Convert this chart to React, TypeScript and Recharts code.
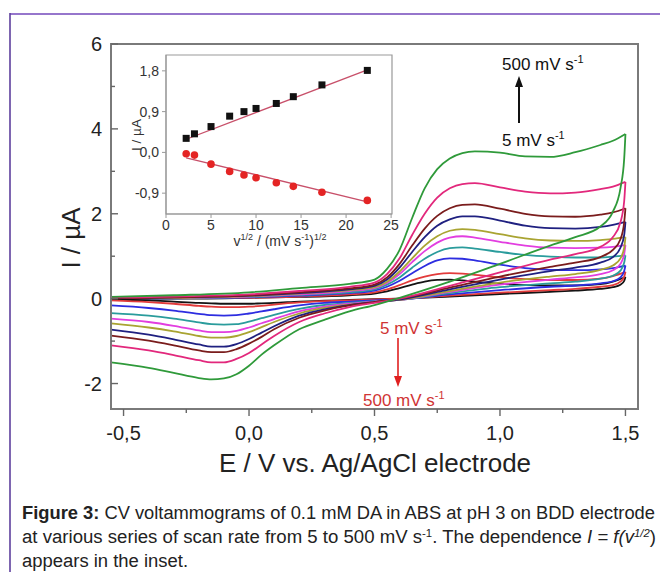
import React from 'react';
import { LineChart, Line, XAxis, YAxis, ReferenceArea, ComposedChart, Scatter } from 'recharts';

const FONT = 'Arial, "Liberation Sans", Helvetica, sans-serif';

// ---------- main CV data ----------
const forwardE = [-0.55, -0.3, 0, 0.2, 0.4, 0.5, 0.55, 0.6, 0.65, 0.7, 0.75, 0.8, 0.85, 0.9, 1.0, 1.1, 1.2, 1.3, 1.4, 1.45, 1.5];
const reverseE = [1.5, 1.495, 1.48, 1.45, 1.4, 1.3, 1.2, 1.0, 0.8, 0.6, 0.5, 0.4, 0.3, 0.2, 0.1, 0.05, 0, -0.05, -0.1, -0.15, -0.2, -0.3, -0.4, -0.55];

const scanRates = ['5', '10', '25', '50', '75', '100', '150', '200', '300', '500'];
const curveColors = ['#141414', '#e23b3b', '#2d2de0', '#2a9c9c', '#e23ee0', '#a9a432', '#1f2080', '#7a1c1c', '#e2287c', '#2f9a3a'];

const fwd5 = [0.0, 0.0, 0.02, 0.04, 0.08, 0.12, 0.17, 0.25, 0.33, 0.4, 0.44, 0.45, 0.43, 0.4, 0.35, 0.32, 0.31, 0.31, 0.34, 0.4, 0.51];
const rev5 = [0.51, 0.42, 0.33, 0.27, 0.23, 0.19, 0.16, 0.11, 0.05, 0.0, -0.01, -0.03, -0.05, -0.07, -0.1, -0.11, -0.12, -0.12, -0.12, -0.11, -0.1, -0.07, -0.04, -0.02];
const fwd10 = [0.0, 0.01, 0.02, 0.05, 0.1, 0.15, 0.22, 0.32, 0.43, 0.52, 0.58, 0.6, 0.59, 0.56, 0.5, 0.46, 0.44, 0.44, 0.47, 0.53, 0.63];
const rev10 = [0.63, 0.52, 0.4, 0.32, 0.28, 0.23, 0.2, 0.14, 0.07, 0.0, -0.02, -0.04, -0.06, -0.09, -0.14, -0.17, -0.19, -0.2, -0.2, -0.19, -0.17, -0.12, -0.08, -0.04];
const fwd25 = [0.0, 0.01, 0.03, 0.07, 0.13, 0.19, 0.28, 0.42, 0.6, 0.77, 0.9, 0.95, 0.94, 0.9, 0.8, 0.72, 0.68, 0.67, 0.69, 0.72, 0.78];
const rev25 = [0.78, 0.65, 0.5, 0.41, 0.36, 0.31, 0.28, 0.2, 0.1, -0.02, -0.04, -0.07, -0.1, -0.16, -0.25, -0.3, -0.35, -0.39, -0.4, -0.39, -0.36, -0.28, -0.22, -0.16];
const fwd50 = [0.0, 0.01, 0.04, 0.09, 0.15, 0.22, 0.33, 0.5, 0.73, 0.94, 1.1, 1.19, 1.21, 1.18, 1.1, 1.03, 0.99, 0.97, 0.97, 0.99, 1.02];
const rev50 = [1.02, 0.85, 0.66, 0.54, 0.47, 0.4, 0.36, 0.27, 0.13, -0.03, -0.06, -0.1, -0.15, -0.24, -0.38, -0.46, -0.54, -0.6, -0.61, -0.6, -0.56, -0.47, -0.4, -0.34];
const fwd75 = [0.0, 0.02, 0.05, 0.1, 0.18, 0.25, 0.37, 0.58, 0.86, 1.12, 1.32, 1.44, 1.47, 1.44, 1.34, 1.25, 1.2, 1.19, 1.2, 1.22, 1.26];
const rev75 = [1.26, 1.05, 0.82, 0.67, 0.58, 0.5, 0.45, 0.33, 0.16, -0.03, -0.07, -0.12, -0.19, -0.3, -0.48, -0.58, -0.68, -0.76, -0.79, -0.79, -0.75, -0.64, -0.55, -0.47];
const fwd100 = [0.0, 0.02, 0.06, 0.12, 0.2, 0.27, 0.4, 0.64, 0.95, 1.25, 1.47, 1.6, 1.64, 1.62, 1.52, 1.42, 1.37, 1.36, 1.38, 1.41, 1.45];
const rev100 = [1.45, 1.2, 0.95, 0.78, 0.68, 0.58, 0.52, 0.38, 0.18, -0.03, -0.08, -0.14, -0.22, -0.35, -0.55, -0.67, -0.79, -0.88, -0.92, -0.92, -0.88, -0.77, -0.68, -0.58];
const fwd150 = [0.0, 0.03, 0.07, 0.13, 0.22, 0.3, 0.45, 0.73, 1.1, 1.45, 1.72, 1.87, 1.94, 1.94, 1.84, 1.72, 1.66, 1.65, 1.69, 1.74, 1.81];
const rev150 = [1.81, 1.5, 1.2, 0.98, 0.85, 0.73, 0.65, 0.45, 0.22, -0.02, -0.08, -0.15, -0.25, -0.4, -0.65, -0.8, -0.95, -1.07, -1.13, -1.13, -1.08, -0.96, -0.85, -0.73];
const fwd200 = [0.0, 0.03, 0.08, 0.15, 0.24, 0.33, 0.5, 0.82, 1.25, 1.65, 1.95, 2.13, 2.21, 2.22, 2.12, 2.0, 1.94, 1.93, 1.98, 2.03, 2.13];
const rev200 = [2.13, 1.8, 1.4, 1.15, 0.98, 0.85, 0.75, 0.52, 0.26, 0.0, -0.08, -0.16, -0.28, -0.45, -0.72, -0.9, -1.06, -1.19, -1.26, -1.26, -1.22, -1.1, -0.99, -0.87];
const fwd300 = [0.02, 0.05, 0.1, 0.18, 0.28, 0.38, 0.58, 0.95, 1.5, 2.0, 2.38, 2.6, 2.7, 2.72, 2.62, 2.52, 2.48, 2.5, 2.58, 2.64, 2.75];
const rev300 = [2.75, 2.3, 1.8, 1.45, 1.22, 1.05, 0.92, 0.62, 0.3, 0.0, -0.1, -0.2, -0.35, -0.55, -0.88, -1.08, -1.28, -1.42, -1.5, -1.5, -1.45, -1.33, -1.22, -1.1];
const fwd500 = [0.04, 0.08, 0.15, 0.25, 0.35, 0.45, 0.7, 1.15, 1.9, 2.6, 3.05, 3.3, 3.43, 3.47, 3.44, 3.35, 3.34, 3.45, 3.62, 3.72, 3.88];
const rev500 = [3.88, 3.3, 2.6, 2.05, 1.7, 1.45, 1.25, 0.82, 0.4, 0.02, -0.15, -0.3, -0.5, -0.72, -1.1, -1.32, -1.58, -1.78, -1.88, -1.9, -1.87, -1.75, -1.63, -1.5];

const forwardSets = [fwd5, fwd10, fwd25, fwd50, fwd75, fwd100, fwd150, fwd200, fwd300, fwd500];
const reverseSets = [rev5, rev10, rev25, rev50, rev75, rev100, rev150, rev200, rev300, rev500];

const mainXTicks = [-0.5, -0.25, 0, 0.25, 0.5, 0.75, 1.0, 1.25, 1.5];
const mainYTicks = [-2, -1, 0, 1, 2, 3, 4, 5, 6];
const mainXDomain = [-0.55, 1.55];
const mainYDomain = [-2.6, 6];

// ---------- inset data ----------
const sqrtRate = [2.24, 3.16, 5.0, 7.07, 8.66, 10.0, 12.25, 14.14, 17.32, 22.36];
const anodicPeak = [0.31, 0.41, 0.57, 0.8, 0.9, 0.97, 1.08, 1.23, 1.49, 1.81];
const cathodicPeak = [-0.03, -0.06, -0.26, -0.42, -0.5, -0.56, -0.67, -0.75, -0.88, -1.06];
const fitX = [2.24, 22.36];
const anodicFit = [0.29, 1.82];
const cathodicFit = [-0.12, -1.09];
const insetXTicks = [0, 5, 10, 15, 20, 25];
const insetYTicks = [-0.9, 0, 0.9, 1.8];
const insetXDomain = [0, 25.1];
const insetYDomain = [-1.36, 2.15];

const comma = (v: number, d: number) => v.toFixed(d).replace('.', ',');

function MainYTick(props: any) {
  const { x, y, payload } = props;
  const v = payload.value as number;
  const major = v % 2 === 0;
  const ax = x + 9;
  return (
    <g>
      <line x1={ax} x2={ax + (major ? 7 : 4)} y1={y} y2={y} stroke="#666" strokeWidth={1.4} />
      {major ? (
        <text x={x} y={y} textAnchor="end" dominantBaseline="central" fontSize={20} fill="#222" fontFamily={FONT}>
          {String(v)}
        </text>
      ) : null}
    </g>
  );
}

function MainXTick(props: any) {
  const { x, y, payload } = props;
  const v = payload.value as number;
  const major = Math.abs(v * 2 - Math.round(v * 2)) < 1e-6;
  return (
    <g>
      <line x1={x} x2={x} y1={y} y2={y + (major ? 7 : 4)} stroke="#666" strokeWidth={1.4} />
      {major ? (
        <text x={x} y={y + 24} textAnchor="middle" dominantBaseline="central" fontSize={20} fill="#222" fontFamily={FONT}>
          {comma(v, 1)}
        </text>
      ) : null}
    </g>
  );
}

const SquareShape = (p: any) => <rect x={p.cx - 3.5} y={p.cy - 3.5} width={7} height={7} fill="#111" />;
const CircleShape = (p: any) => <circle cx={p.cx} cy={p.cy} r={3.8} fill="#e42424" />;

export default function App() {
  const curves = scanRates.map((rate, i) => ({
    rate,
    color: curveColors[i],
    fwd: forwardE.map((E, j) => ({ E, I: forwardSets[i][j] })),
    rev: reverseE.map((E, j) => ({ E, I: reverseSets[i][j] })),
  }));
  const anodicPts = sqrtRate.map((x, i) => ({ x, y: anodicPeak[i] }));
  const cathodicPts = sqrtRate.map((x, i) => ({ x, y: cathodicPeak[i] }));
  const anodicLine = fitX.map((x, i) => ({ x, y: anodicFit[i] }));
  const cathodicLine = fitX.map((x, i) => ({ x, y: cathodicFit[i] }));

  return (
    <div style={{ position: 'absolute', left: 0, top: 0, width: 660, height: 572, background: '#fff', fontFamily: FONT }}>
      <div style={{ position: 'absolute', left: 0, top: 0 }}>
        <LineChart width={660} height={572} margin={{ top: 44, right: 22, left: 51, bottom: 133 }}>
          <XAxis
            type="number"
            dataKey="E"
            domain={mainXDomain}
            allowDataOverflow
            ticks={mainXTicks}
            interval={0}
            height={30}
            tickSize={0}
            tickMargin={0}
            tickLine={false}
            axisLine={{ stroke: '#7a7a7a', strokeWidth: 2 }}
            tick={<MainXTick />}
          />
          <YAxis
            type="number"
            dataKey="I"
            domain={mainYDomain}
            allowDataOverflow
            ticks={mainYTicks}
            interval={0}
            width={60}
            tickSize={0}
            tickMargin={9}
            tickLine={false}
            axisLine={{ stroke: '#7a7a7a', strokeWidth: 2 }}
            tick={<MainYTick />}
          />
          <ReferenceArea
            x1={mainXDomain[0]}
            x2={mainXDomain[1]}
            y1={mainYDomain[0]}
            y2={mainYDomain[1]}
            fill="none"
            stroke="#7a7a7a"
            strokeWidth={2}
            ifOverflow="visible"
          />
          {curves.map((c) => (
            <Line
              key={'f' + c.rate}
              data={c.fwd}
              dataKey="I"
              type="monotone"
              stroke={c.color}
              strokeWidth={1.8}
              dot={false}
              activeDot={false}
              isAnimationActive={false}
            />
          ))}
          {curves.map((c) => (
            <Line
              key={'r' + c.rate}
              data={c.rev}
              dataKey="I"
              type="monotone"
              stroke={c.color}
              strokeWidth={1.8}
              dot={false}
              activeDot={false}
              isAnimationActive={false}
            />
          ))}
        </LineChart>
      </div>

      <div style={{ position: 'absolute', left: 100, top: 30 }}>
        <ComposedChart width={300} height={230} margin={{ top: 25, right: 8, left: 26, bottom: 16 }}>
          <XAxis
            type="number"
            dataKey="x"
            domain={insetXDomain}
            allowDataOverflow
            ticks={insetXTicks}
            interval={0}
            height={30}
            tickSize={4}
            tickMargin={2}
            stroke="#999"
            tick={{ fontSize: 14, fill: '#333', fontFamily: FONT }}
          />
          <YAxis
            type="number"
            dataKey="y"
            domain={insetYDomain}
            allowDataOverflow
            ticks={insetYTicks}
            interval={0}
            width={40}
            tickSize={4}
            tickMargin={3}
            stroke="#999"
            tickFormatter={(v: number) => comma(v, 1)}
            tick={{ fontSize: 14, fill: '#333', fontFamily: FONT }}
          />
          <ReferenceArea
            x1={insetXDomain[0]}
            x2={insetXDomain[1]}
            y1={insetYDomain[0]}
            y2={insetYDomain[1]}
            fill="#fff"
            fillOpacity={1}
            stroke="#999"
            strokeWidth={1.2}
            ifOverflow="visible"
          />
          <Line data={anodicLine} dataKey="y" type="linear" stroke="#c8506a" strokeWidth={1.3} dot={false} activeDot={false} isAnimationActive={false} />
          <Line data={cathodicLine} dataKey="y" type="linear" stroke="#c8506a" strokeWidth={1.3} dot={false} activeDot={false} isAnimationActive={false} />
          <Scatter data={anodicPts} dataKey="y" shape={SquareShape} isAnimationActive={false} />
          <Scatter data={cathodicPts} dataKey="y" shape={CircleShape} isAnimationActive={false} />
        </ComposedChart>
      </div>

      <svg width={660} height={572} style={{ position: 'absolute', left: 0, top: 0, pointerEvents: 'none' }} fontFamily={FONT}>
        {/* page frame */}
        <line x1={10} y1={14} x2={660} y2={14} stroke="#9676cc" strokeWidth={2} />
        <line x1={10} y1={13} x2={10} y2={572} stroke="#5d3f9d" strokeWidth={1.6} />

        {/* main axis titles */}
        <text transform="translate(80,238) rotate(-90)" textAnchor="middle" fontSize={26} fill="#222">I / µA</text>
        <text x={375} y={472} textAnchor="middle" fontSize={26} fill="#222">E / V vs. Ag/AgCl electrode</text>

        {/* inset axis titles */}
        <text transform="translate(141,135) rotate(-90)" textAnchor="middle" fontSize={13.5} fill="#333">I / µA</text>
        <text x={280} y={246} textAnchor="middle" fontSize={14} fill="#333">
          v<tspan dy={-6} fontSize={9}>1/2</tspan>
          <tspan dy={6}> / (mV s</tspan>
          <tspan dy={-6} fontSize={9}>-1</tspan>
          <tspan dy={6}>)</tspan>
          <tspan dy={-6} fontSize={9}>1/2</tspan>
        </text>

        {/* anodic annotation */}
        <text x={502} y={70} fontSize={17} fill="#111">
          500 mV s<tspan dy={-7} fontSize={11}>-1</tspan>
        </text>
        <line x1={519} y1={123} x2={519} y2={84} stroke="#111" strokeWidth={2} />
        <polygon points="519,76 515,87 523,87" fill="#111" />
        <text x={502} y={146} fontSize={17} fill="#111">
          5 mV s<tspan dy={-7} fontSize={11}>-1</tspan>
        </text>

        {/* cathodic annotation */}
        <text x={380} y={334} fontSize={17} fill="#d03434">
          5 mV s<tspan dy={-7} fontSize={11}>-1</tspan>
        </text>
        <line x1={398} y1={338} x2={398} y2={378} stroke="#e02020" strokeWidth={1.6} />
        <polygon points="398,387 394,376 402,376" fill="#e02020" />
        <text x={363} y={406} fontSize={17} fill="#d03434">
          500 mV s<tspan dy={-7} fontSize={11}>-1</tspan>
        </text>

        {/* caption */}
        <text x={22} y={519} fontSize={18} fill="#222" textLength={633} lengthAdjust="spacingAndGlyphs">
          <tspan fontWeight="bold">Figure 3:</tspan> CV voltammograms of 0.1 mM DA in ABS at pH 3 on BDD electrode
        </text>
        <text x={22} y={543} fontSize={18} fill="#222" textLength={634} lengthAdjust="spacingAndGlyphs">
          at various series of scan rate from 5 to 500 mV s<tspan dy={-6} fontSize={11}>-1</tspan>
          <tspan dy={6}>. The dependence </tspan>
          <tspan fontStyle="italic">I = f(v</tspan>
          <tspan dy={-6} fontSize={11} fontStyle="italic">1/2</tspan>
          <tspan dy={6}>)</tspan>
        </text>
        <text x={22} y={567} fontSize={18} fill="#222" textLength={166} lengthAdjust="spacingAndGlyphs">
          appears in the inset.
        </text>
      </svg>
    </div>
  );
}
